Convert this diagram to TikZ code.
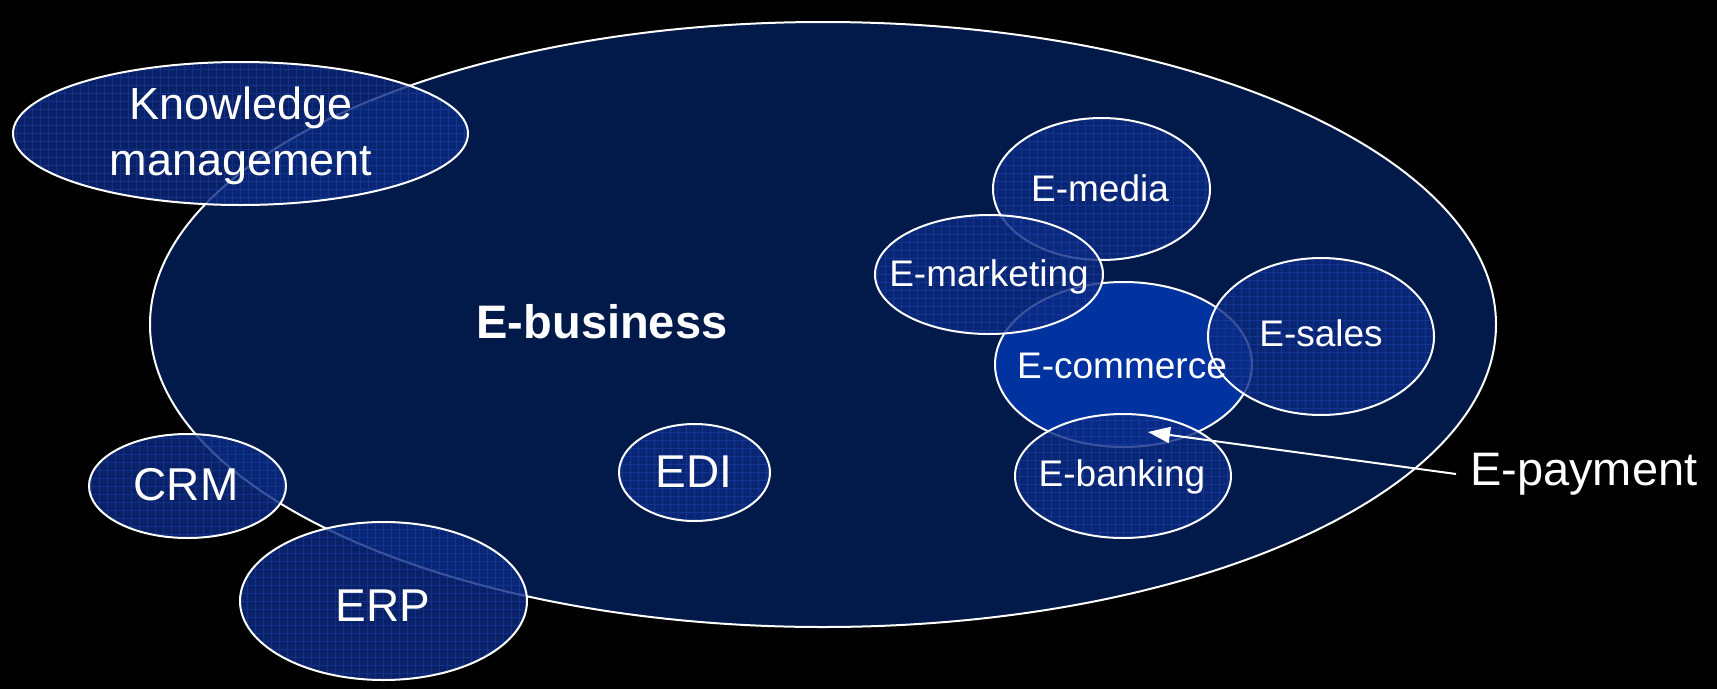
\documentclass[tikz,border=0pt]{standalone}
\usepackage{fontspec}
\setmainfont{Liberation Sans}
\usetikzlibrary{shapes.geometric,arrows.meta}
\definecolor{navy}{RGB}{1,26,74}
\definecolor{subfill}{RGB}{12,42,128}
\definecolor{gridblue}{RGB}{40,80,200}
\definecolor{commblue}{RGB}{0,51,160}
\tikzset{
  bigell/.style={ellipse, draw=white, line width=2pt, fill=navy, inner sep=0pt},
  subell/.style={ellipse, draw=white, line width=2pt, fill=subfill, fill opacity=0.8, inner sep=0pt,
    path picture={\draw[gridblue, line width=0.4pt, opacity=0.35] (path picture bounding box.south west) grid[step=8pt] (path picture bounding box.north east);}},
  commell/.style={ellipse, draw=white, line width=2pt, fill=commblue, inner sep=0pt},
  lbl/.style={text=white, inner sep=0pt, font=\fontsize{46}{56}\selectfont, align=center},
  slbl/.style={text=white, inner sep=0pt, font=\fontsize{37}{44}\selectfont},
}
\begin{document}
\begin{tikzpicture}[x=1pt,y=-1pt]
\fill[black] (0,0) rectangle (1717,689);
\useasboundingbox (0,0) rectangle (1717,689);
% main ellipse
\node[bigell, minimum width=1346pt, minimum height=605pt] (ebiz) at (823,324.5) {};
% e-commerce cluster
\node[commell, minimum width=257pt, minimum height=165pt] (ecom) at (1123.5,364.5) {};
\node[subell, minimum width=217pt, minimum height=142pt] (emed) at (1101.5,189) {};
\node[subell, minimum width=228pt, minimum height=119pt] (emkt) at (989,274.5) {};
\node[subell, minimum width=226pt, minimum height=157pt] (esal) at (1321,336.5) {};
\node[subell, minimum width=216pt, minimum height=124pt] (ebank) at (1123,476) {};
\node[subell, minimum width=151pt, minimum height=97pt] (edi) at (694.5,472.5) {};
% outer ones
\node[subell, minimum width=455pt, minimum height=143pt] (km) at (240.5,133.5) {};
\node[subell, minimum width=197pt, minimum height=104pt] (crm) at (187.5,486) {};
\node[subell, minimum width=287pt, minimum height=158pt] (erp) at (383.5,601) {};
% labels
\node[lbl, font=\fontsize{45}{56}\selectfont] (kmt) at (241,136) {Knowledge\\management};
\node[lbl, font=\fontsize{47}{55}\selectfont\bfseries] (ebizt) at (602,322) {E-business};
\node[slbl] (emedt) at (1100,188) {E-media};
\node[slbl] (emktt) at (989,277) {E-marketing};
\node[slbl] (ecomt) at (1122,366) {E-commerce};
\node[slbl] (esalt) at (1321,333) {E-sales};
\node[slbl] (ebankt) at (1122,477) {E-banking};
\node[lbl] (edit) at (694,472) {EDI};
\node[lbl] (crmt) at (186,485) {CRM};
\node[lbl] (erpt) at (383,606) {ERP};
\node[lbl, anchor=west, font=\fontsize{47}{56}\selectfont] (epay) at (1470,474) {E-payment};
\coordinate (tip) at (1148,432);
\draw[white, line width=2pt, -{Triangle[length=22pt,width=16pt]}] ([xshift=-14pt]epay.west) -- (tip);
\end{tikzpicture}
\end{document}
